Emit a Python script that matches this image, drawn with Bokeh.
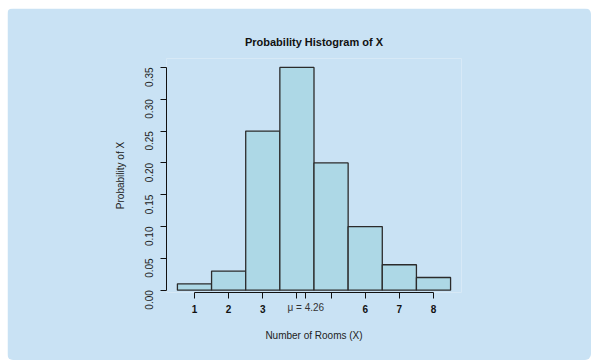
import math
from bokeh.plotting import figure
from bokeh.models import (ColumnDataSource, FixedTicker, PrintfTickFormatter,
                          LinearAxis, Range1d)
from bokeh.embed import file_html
from bokeh.resources import INLINE

# ---- data ----
rooms = [1, 2, 3, 4, 5, 6, 7, 8]
probs = [0.01, 0.03, 0.25, 0.35, 0.20, 0.10, 0.04, 0.02]
mu = 4.26
x_ticks = [1, 2, 3, 4, 4.26, 5, 6, 7, 8]
y_ticks = [0.00, 0.05, 0.10, 0.15, 0.20, 0.25, 0.30, 0.35]
title_text = "Probability Histogram of X"
x_label = "Number of Rooms (X)"
y_label = "Probability of X"

PANEL = "#C9E2F4"
FONT = "Liberation Sans"

src = ColumnDataSource(dict(
    left=[r - 0.5 for r in rooms],
    right=[r + 0.5 for r in rooms],
    top=probs,
    bottom=[0] * len(rooms),
))

p = figure(width=584, height=352, output_backend="svg", toolbar_location=None,
           x_range=Range1d(0.18, 8.82), y_range=Range1d(-0.0036, 0.364),
           min_border_left=159, min_border_right=130,
           min_border_top=50, min_border_bottom=68)
p.margin = (8, 0, 0, 7)
p.background_fill_color = PANEL
p.border_fill_color = PANEL
p.outline_line_color = None
p.grid.visible = False
p.styles = {"border-radius": "6px", "overflow": "hidden"}

# title
p.title.text = title_text
p.title.align = "center"
p.title.text_font = FONT
p.title.text_font_size = "11px"
p.title.text_font_style = "bold"
p.title.text_color = "#111111"
p.title.standoff = 21

p.quad(left="left", right="right", top="top", bottom="bottom", source=src,
       fill_color="#ADD8E6", line_color="#2b2b2b", line_width=1.3)

# x axis (numbers)
xa = p.xaxis[0]
xa.ticker = FixedTicker(ticks=x_ticks)
xa.bounds = (1, 8)
xa.major_label_overrides = {4: "", 4.26: "", 5: ""}
xa.major_label_text_font = FONT
xa.major_label_text_font_style = "bold"
xa.major_label_text_font_size = "10px"
xa.major_label_text_color = "#111111"
xa.major_label_standoff = 6
xa.major_tick_out = 6
xa.major_tick_in = 0
xa.minor_tick_out = 0
xa.minor_tick_in = 0
xa.axis_line_color = "#111111"
xa.major_tick_line_color = "#111111"

# second x axis: mean label + axis title
xm = LinearAxis(ticker=FixedTicker(ticks=[mu]))
xm.major_label_overrides = {mu: f"\u03bc = {mu}"}
xm.axis_line_color = None
xm.major_tick_line_color = None
xm.minor_tick_line_color = None
xm.major_tick_out = 0
xm.major_tick_in = 0
xm.major_label_standoff = -14
xm.major_label_text_font = FONT
xm.major_label_text_font_size = "10px"
xm.major_label_text_color = "#333333"
xm.axis_label = x_label
xm.axis_label_text_font = FONT
xm.axis_label_text_font_style = "normal"
xm.axis_label_text_font_size = "10px"
xm.axis_label_text_color = "#222222"
xm.axis_label_standoff = 14
p.add_layout(xm, "below")

# y axis
ya = p.yaxis[0]
ya.ticker = FixedTicker(ticks=y_ticks)
ya.bounds = (0, 0.35)
ya.formatter = PrintfTickFormatter(format="%.2f")
ya.major_label_orientation = math.pi / 2
ya.major_label_text_font = FONT
ya.major_label_text_font_size = "10px"
ya.major_label_text_color = "#222222"
ya.major_label_standoff = 11
ya.major_tick_out = 6
ya.major_tick_in = 0
ya.minor_tick_out = 0
ya.minor_tick_in = 0
ya.axis_line_color = "#111111"
ya.major_tick_line_color = "#111111"
ya.axis_label = y_label
ya.axis_label_text_font = FONT
ya.axis_label_text_font_style = "normal"
ya.axis_label_text_font_size = "10px"
ya.axis_label_text_color = "#222222"
ya.axis_label_standoff = 13

open("out.html", "w").write(file_html(p, INLINE))
